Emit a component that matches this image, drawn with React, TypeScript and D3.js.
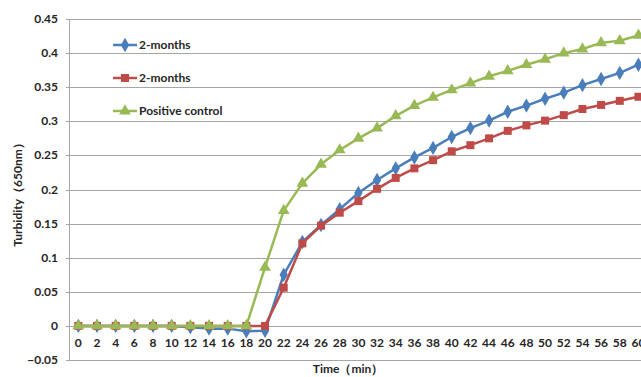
import React, { useRef, useEffect } from 'react';
import * as d3 from 'd3';

const times = d3.range(0, 61, 2).map(String);
const yTicks = [-0.05, 0, 0.05, 0.1, 0.15, 0.2, 0.25, 0.3, 0.35, 0.4, 0.45];

const blueValues = [0, 0, 0, 0, 0, 0, -0.002, -0.004, -0.004, -0.008, -0.007, 0.075, 0.123, 0.148, 0.171, 0.195,
  0.214, 0.231, 0.247, 0.261, 0.277, 0.29, 0.301, 0.314, 0.323, 0.333, 0.342, 0.353, 0.362, 0.371, 0.383];
const redValues = [0, 0, 0, 0, 0, 0, 0, 0, 0, 0, 0, 0.056, 0.121, 0.147, 0.166, 0.183,
  0.201, 0.217, 0.231, 0.243, 0.256, 0.265, 0.275, 0.286, 0.294, 0.301, 0.309, 0.318, 0.324, 0.33, 0.336];
const greenValues = [0, 0, 0, 0, 0, 0, 0, 0, 0, 0, 0.086, 0.169, 0.209, 0.237, 0.258, 0.275,
  0.29, 0.308, 0.323, 0.335, 0.346, 0.356, 0.366, 0.374, 0.383, 0.391, 0.4, 0.406, 0.415, 0.418, 0.426];

const seriesNames = ['2-months', '2-months', 'Positive control'];
const seriesColors = ['#4A7EBB', '#BE4B48', '#98B954'];
const seriesShapes = [d3.symbolDiamond, d3.symbolSquare, d3.symbolTriangle];

export default function App() {
  const ref = useRef<SVGSVGElement>(null);

  useEffect(() => {
    if (!ref.current) return;
    const svg = d3.select(ref.current);
    svg.selectAll('*').remove();
    const font = 'Lato, "Open Sans", sans-serif';

    const x = d3.scaleBand().domain(times).range([69, 69 + 31 * 18.67]);
    const y = d3.scaleLinear().domain([-0.05, 0.45]).range([360, 19]);

    // gridlines
    svg.append('g')
      .selectAll('line')
      .data(yTicks)
      .enter()
      .append('line')
      .attr('x1', 66)
      .attr('x2', 641)
      .attr('y1', d => Math.round(y(d)) + 0.5)
      .attr('y2', d => Math.round(y(d)) + 0.5)
      .attr('stroke', '#A6A6A6')
      .attr('stroke-width', 1);

    // y axis line
    svg.append('line')
      .attr('x1', 69.5).attr('x2', 69.5)
      .attr('y1', y(0.45)).attr('y2', y(-0.05))
      .attr('stroke', '#A6A6A6');

    // y tick labels
    svg.append('g')
      .selectAll('text')
      .data(yTicks)
      .enter()
      .append('text')
      .attr('x', 58)
      .attr('y', d => y(d) + 4)
      .attr('text-anchor', 'end')
      .style('font', `bold 12px ${font}`)
      .attr('fill', '#262626')
      .text(d => d3.format('')(d));

    // x tick labels (the last one runs off the right edge, as in the original)
    svg.append('g')
      .selectAll('text')
      .data(times)
      .enter()
      .append('text')
      .attr('x', d => (x(d) as number) + x.bandwidth() / 2)
      .attr('y', 347)
      .attr('text-anchor', 'middle')
      .style('font', `bold 12px ${font}`)
      .attr('fill', '#262626')
      .text(d => d);

    // axis titles
    svg.append('text')
      .attr('x', 348).attr('y', 373)
      .attr('text-anchor', 'middle')
      .style('font', `bold 12px ${font}`)
      .attr('fill', '#262626')
      .text('Time（min）');

    svg.append('text')
      .attr('transform', 'translate(22,192) rotate(-90)')
      .attr('text-anchor', 'middle')
      .style('font', `bold 12px ${font}`)
      .attr('fill', '#262626')
      .text('Turbidity（650nm）');

    const allSeries = [blueValues, redValues, greenValues];
    const cx = (i: number) => (x(times[i]) as number) + x.bandwidth() / 2;
    const line = d3.line<number>().x((_, i) => cx(i)).y(d => y(d));
    const sizes = [60, 64, 60];

    allSeries.forEach((vals, s) => {
      const g = svg.append('g');
      g.append('path')
        .datum(vals)
        .attr('d', line)
        .attr('fill', 'none')
        .attr('stroke', seriesColors[s])
        .attr('stroke-width', 2.5)
        .attr('stroke-linejoin', 'round');
      g.selectAll('path.m')
        .data(vals)
        .enter()
        .append('path')
        .attr('class', 'm')
        .attr('d', d3.symbol().type(seriesShapes[s]).size(sizes[s]))
        .attr('transform', (d, i) => `translate(${cx(i)},${y(d)})`)
        .attr('fill', seriesColors[s]);
    });

    // legend
    const legendY = [45, 78, 111];
    seriesNames.forEach((name, s) => {
      const g = svg.append('g');
      g.append('line')
        .attr('x1', 113).attr('x2', 137)
        .attr('y1', legendY[s]).attr('y2', legendY[s])
        .attr('stroke', seriesColors[s])
        .attr('stroke-width', 2.5);
      g.append('path')
        .attr('d', d3.symbol().type(seriesShapes[s]).size(sizes[s])())
        .attr('transform', `translate(125,${legendY[s]})`)
        .attr('fill', seriesColors[s]);
      g.append('text')
        .attr('x', 139)
        .attr('y', legendY[s] + 4)
        .style('font', `bold 12px ${font}`)
        .attr('fill', '#262626')
        .text(name);
    });
  }, []);

  return (
    <svg
      ref={ref}
      width={641}
      height={377}
      style={{ position: 'absolute', left: 0, top: 0, background: '#fff', display: 'block' }}
    />
  );
}
